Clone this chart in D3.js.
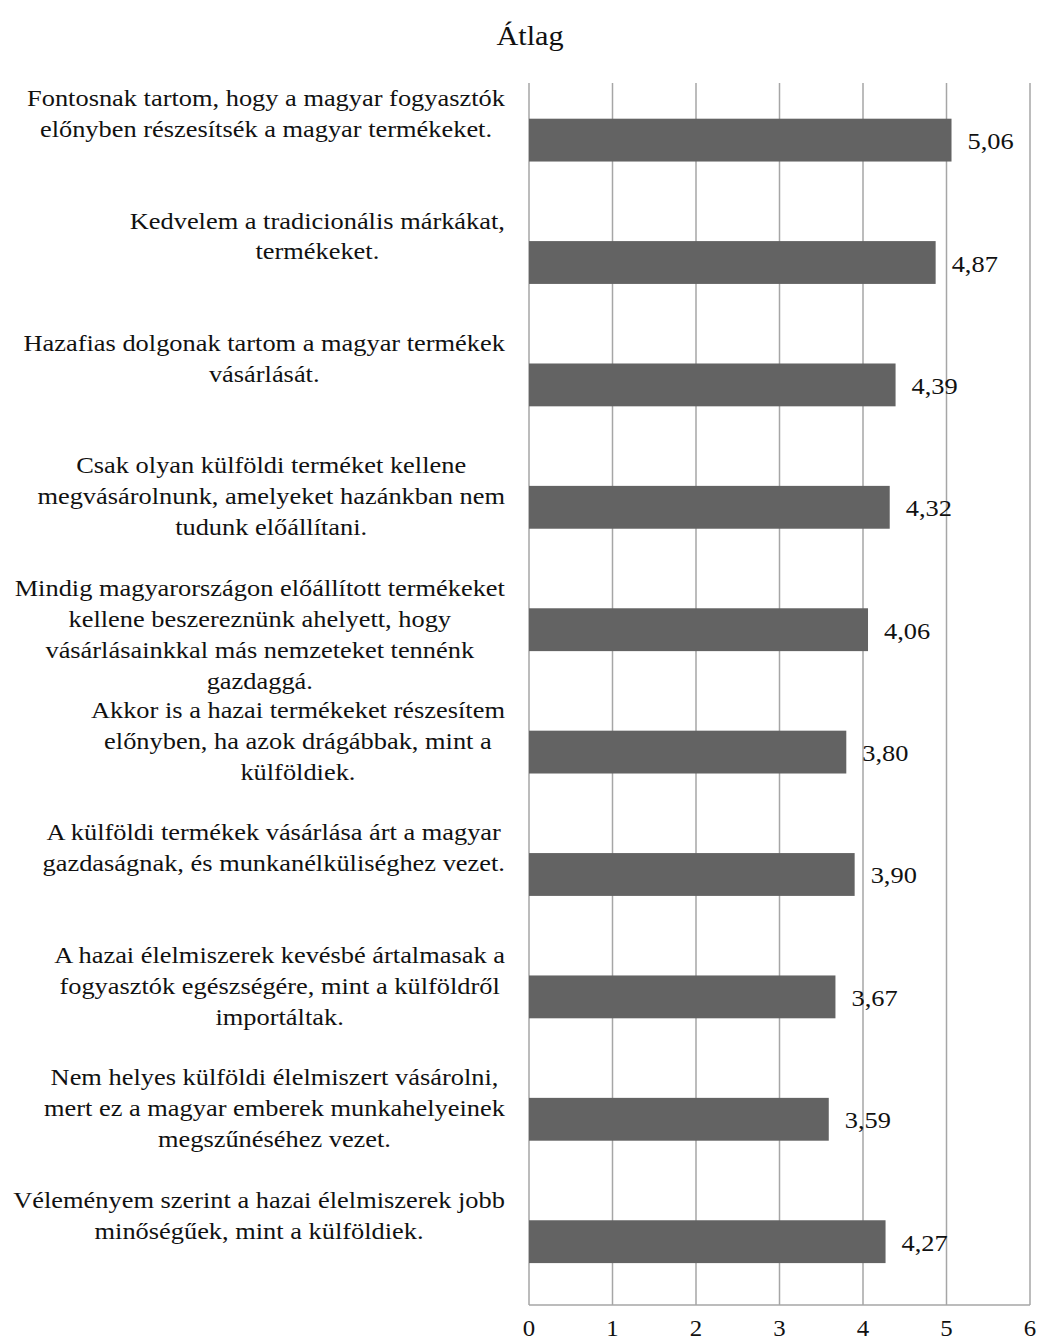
<!DOCTYPE html>
<html>
<head>
<meta charset="utf-8">
<script src="https://cdn.jsdelivr.net/npm/d3@7"></script>
<style>
  body { margin: 0; background: #fff; }
  svg { font-family: "Liberation Serif", "Times New Roman", serif; }
</style>
</head>
<body>
<svg id="chart"></svg>
<script>
// adatok
var categories = [
  ["Fontosnak tartom, hogy a magyar fogyasztók", "előnyben részesítsék a magyar termékeket."],
  ["Kedvelem a tradicionális márkákat,", "termékeket."],
  ["Hazafias dolgonak tartom a magyar termékek", "vásárlását."],
  ["Csak olyan külföldi terméket kellene", "megvásárolnunk, amelyeket hazánkban nem", "tudunk előállítani."],
  ["Mindig magyarországon előállított termékeket", "kellene beszereznünk ahelyett, hogy", "vásárlásainkkal más nemzeteket tennénk", "gazdaggá."],
  ["Akkor is a hazai termékeket részesítem", "előnyben, ha azok drágábbak, mint a", "külföldiek."],
  ["A külföldi termékek vásárlása árt a magyar", "gazdaságnak, és munkanélküliséghez vezet."],
  ["A hazai élelmiszerek kevésbé ártalmasak a", "fogyasztók egészségére, mint a külföldről", "importáltak."],
  ["Nem helyes külföldi élelmiszert vásárolni,", "mert ez a magyar emberek munkahelyeinek", "megszűnéséhez vezet."],
  ["Véleményem szerint a hazai élelmiszerek jobb", "minőségűek, mint a külföldiek."]
];
var values = [5.06, 4.87, 4.39, 4.32, 4.06, 3.80, 3.90, 3.67, 3.59, 4.27];
var xTicks = [0, 1, 2, 3, 4, 5, 6];
var title = "Átlag";

var width = 1038, height = 1342;
var margin = { left: 529, right: 8, top: 83, bottom: 37 };
var stretch = 1.1; // a szöveg vízszintesen kissé nyújtott

var svg = d3.select("#chart")
  .attr("width", width)
  .attr("height", height);

var x = d3.scaleLinear().domain([0, 6]).range([margin.left, width - margin.right]);
var y = d3.scaleBand()
  .domain(d3.range(values.length))
  .range([margin.top, height - margin.bottom])
  .paddingInner(0.65)
  .paddingOuter(0.317)
  .align(0.46);

// cím
svg.append("text")
  .attr("transform", "translate(530,45) scale(1.08,1)")
  .attr("text-anchor", "middle")
  .style("font-size", "28px")
  .attr("fill", "#111")
  .text(title);

// rácsvonalak
svg.selectAll(".grid")
  .data(xTicks)
  .enter().append("line")
  .attr("class", "grid")
  .attr("x1", function(d) { return x(d); })
  .attr("x2", function(d) { return x(d); })
  .attr("y1", margin.top)
  .attr("y2", height - margin.bottom)
  .attr("stroke", "#a6a6a6")
  .attr("stroke-width", 1.5);

// alsó tengely
svg.append("line")
  .attr("x1", x(0)).attr("x2", x(6))
  .attr("y1", height - margin.bottom).attr("y2", height - margin.bottom)
  .attr("stroke", "#a6a6a6")
  .attr("stroke-width", 1.5);

// oszlopok
svg.selectAll(".bar")
  .data(values)
  .enter().append("rect")
  .attr("class", "bar")
  .attr("x", x(0))
  .attr("y", function(d, i) { return y(i); })
  .attr("width", function(d) { return x(d) - x(0); })
  .attr("height", y.bandwidth())
  .attr("fill", "#636363");

// értékek
svg.selectAll(".val")
  .data(values)
  .enter().append("text")
  .attr("class", "val")
  .attr("transform", function(d, i) {
    return "translate(" + (x(d) + 16) + "," + (y(i) + y.bandwidth() / 2 + 9) + ") scale(" + stretch + ",1)";
  })
  .style("font-size", "24px")
  .attr("fill", "#111")
  .text(function(d) { return d.toFixed(2).replace(".", ","); });

// tengely feliratok
svg.selectAll(".tick")
  .data(xTicks)
  .enter().append("text")
  .attr("class", "tick")
  .attr("transform", function(d) { return "translate(" + x(d) + ",1336) scale(1.08,1)"; })
  .attr("text-anchor", "middle")
  .style("font-size", "23px")
  .attr("fill", "#111")
  .text(function(d) { return d; });

// kategória feliratok
var labelRight = 505;
categories.forEach(function(lines, i) {
  var g = svg.append("text")
    .style("font-size", "24px")
    .attr("fill", "#111")
    .attr("text-anchor", "middle");
  var cy = y(i) + y.bandwidth() / 2;
  var spans = g.selectAll("tspan")
    .data(lines)
    .enter().append("tspan")
    .attr("x", 0)
    .attr("y", function(d, j) { return cy - 34 + j * 31; })
    .text(function(d) { return d; });
  var maxW = 0;
  spans.each(function() { maxW = Math.max(maxW, this.getComputedTextLength()); });
  g.attr("transform", "translate(" + (labelRight - maxW * stretch / 2) + ",0) scale(" + stretch + ",1)");
});
</script>
</body>
</html>
